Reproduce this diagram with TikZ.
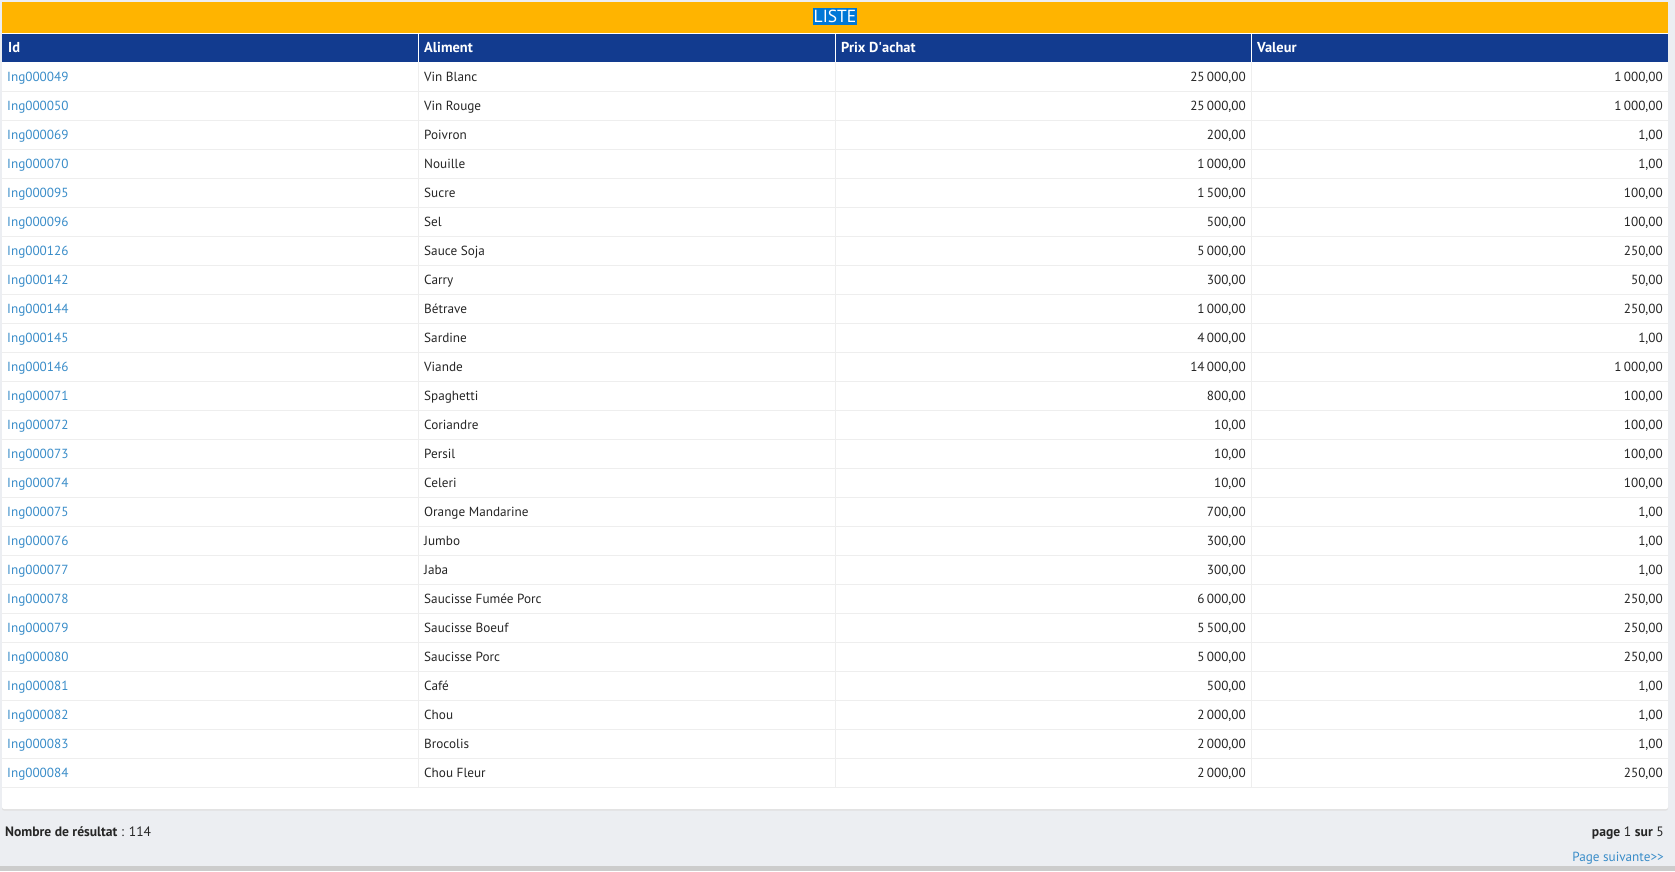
\documentclass[tikz,border=0pt]{standalone}
\usepackage{fontspec}
\setmainfont{PT Sans}
\usetikzlibrary{positioning}
\definecolor{jaune}{HTML}{FFB400}
\definecolor{bleu}{HTML}{123B8F}
\definecolor{lien}{HTML}{3A8DC9}
\definecolor{texte}{HTML}{262626}
\definecolor{fond}{HTML}{ECEEF2}
\definecolor{trait}{HTML}{EEEEEE}
\definecolor{selection}{HTML}{0078D7}

\begin{document}
\begin{tikzpicture}[x=1pt, y=-1pt,
		cellule/.style={inner sep=0pt, anchor=base west, text=texte, font=\fontsize{13.2}{15}\selectfont},
		nombre/.style={cellule, anchor=base east},
		entete/.style={cellule, text=white, font=\fontsize{14.4}{16}\selectfont\bfseries},
		pied/.style={cellule, font=\fontsize{13.6}{16}\selectfont}]
	\fill[fond] (0,0) rectangle (1675,871);
	\fill[black!20] (0,866) rectangle (1675,871);
	\fill[black!12, rounded corners=2pt] (2,33) rectangle (1668,810.5);
	\fill[white, rounded corners=2pt] (2,33) rectangle (1668,809);
	\fill[jaune] (2,2) rectangle (1668,33);
	\node[fill=selection, text=white, inner xsep=1pt, inner ysep=2pt, font=\fontsize{17.5}{19}\selectfont] (liste) at (835,16.5) {LISTE};
	\fill[bleu] (2,34) rectangle (1668,62);
	\draw[white] (2,33.5) -- (1668,33.5);
	\foreach \x in {418.5,835.5,1251.5}
		\draw[white] (\x,34) -- (\x,62);
	\node[entete] (h-id) at (8,52.5) {Id};
	\node[entete] (h-aliment) at (424,52.5) {Aliment};
	\node[entete] (h-prix) at (841,52.5) {Prix D\textquotesingle achat};
	\node[entete] (h-valeur) at (1257,52.5) {Valeur};
	\foreach \x in {418.5,835.5,1251.5}
		\draw[trait] (\x,62) -- (\x,787);
	\foreach \id/\nom/\prix/\val [count=\i] in {
			{Ing000049/Vin Blanc/25\,000,00/1\,000,00},
			{Ing000050/Vin Rouge/25\,000,00/1\,000,00},
			{Ing000069/Poivron/200,00/1,00},
			{Ing000070/Nouille/1\,000,00/1,00},
			{Ing000095/Sucre/1\,500,00/100,00},
			{Ing000096/Sel/500,00/100,00},
			{Ing000126/Sauce Soja/5\,000,00/250,00},
			{Ing000142/Carry/300,00/50,00},
			{Ing000144/Bétrave/1\,000,00/250,00},
			{Ing000145/Sardine/4\,000,00/1,00},
			{Ing000146/Viande/14\,000,00/1\,000,00},
			{Ing000071/Spaghetti/800,00/100,00},
			{Ing000072/Coriandre/10,00/100,00},
			{Ing000073/Persil/10,00/100,00},
			{Ing000074/Celeri/10,00/100,00},
			{Ing000075/Orange Mandarine/700,00/1,00},
			{Ing000076/Jumbo/300,00/1,00},
			{Ing000077/Jaba/300,00/1,00},
			{Ing000078/Saucisse Fumée Porc/6\,000,00/250,00},
			{Ing000079/Saucisse Boeuf/5\,500,00/250,00},
			{Ing000080/Saucisse Porc/5\,000,00/250,00},
			{Ing000081/Café/500,00/1,00},
			{Ing000082/Chou/2\,000,00/1,00},
			{Ing000083/Brocolis/2\,000,00/1,00},
			{Ing000084/Chou Fleur/2\,000,00/250,00}} {
		\draw[trait] (2,{62.5+29*\i}) -- (1668,{62.5+29*\i});
		\node[cellule, text=lien] (id-\i) at (7,{52.5+29*\i}) {\id};
		\node[cellule] (nom-\i) at (424,{52.5+29*\i}) {\nom};
		\node[nombre] (prix-\i) at (1246,{52.5+29*\i}) {\prix};
		\node[nombre] (val-\i) at (1663,{52.5+29*\i}) {\val};
	}
	\node[pied] (resultat) at (5,836.5) {\textbf{Nombre de résultat} : 114};
	\node[pied, anchor=base east] (pages) at (1664,836.5) {\textbf{page} 1 \textbf{sur} 5};
	\node[nombre, text=lien] (suivante) at (1664,861.5) {Page suivante{>}{>}};
\end{tikzpicture}
\end{document}
